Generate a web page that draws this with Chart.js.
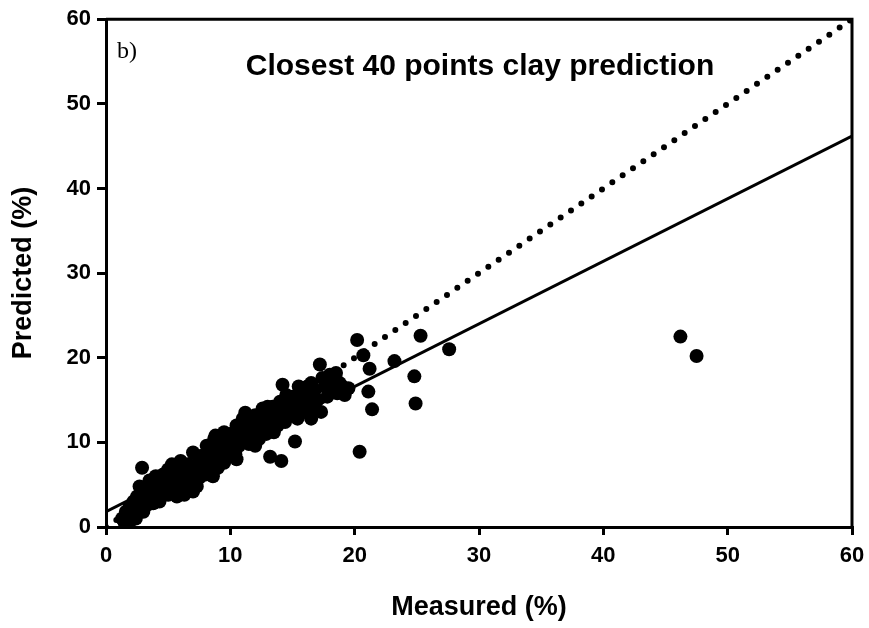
<!DOCTYPE html>
<html>
<head>
<meta charset="utf-8">
<script src="https://cdn.jsdelivr.net/npm/chart.js@4"></script>
<style>
  body { margin: 0; background: #fff; }
  canvas { display: block; }
</style>
</head>
<body>
<canvas id="clayChart" width="869" height="628"></canvas>
<script>
// measured vs predicted clay (%)
const measured = [
  1.3, 1.5, 1.6, 1.8, 1.9, 2.0, 2.1, 2.2, 2.3, 2.4, 2.5, 2.6, 2.7, 2.8, 2.9, 3.0, 3.0, 3.2, 3.3, 3.4,
  3.5, 3.6, 3.8, 3.9, 4.0, 4.1, 4.2, 4.3, 4.5, 4.6, 4.7, 4.8, 5.0, 5.0, 5.1, 5.2, 5.3, 5.4, 5.5, 5.6,
  5.7, 5.8, 5.9, 6.0, 6.1, 6.2, 6.3, 6.4, 6.5, 6.6, 6.7, 6.8, 7.0, 7.0, 7.2, 7.3, 7.4, 7.5, 7.6, 7.8,
  7.9, 8.0, 8.1, 8.2, 8.3, 8.5, 8.6, 8.7, 8.8, 8.9, 9.0, 9.2, 9.3, 9.5, 9.6, 9.8, 10.0, 10.1, 10.3, 10.4,
  10.5, 10.7, 10.8, 11.0, 11.2, 11.3, 11.5, 11.6, 11.8, 12.0, 12.2, 12.3, 12.5, 12.6, 12.8, 12.9, 13.0, 13.2, 13.2, 13.4,
  13.5, 13.6, 13.8, 14.0, 14.1, 14.2, 14.3, 14.4, 14.6, 14.8, 15.0, 15.2, 15.2, 15.4, 15.6, 15.8, 16.0, 16.2, 16.4, 16.6,
  16.8, 17.0, 17.2, 17.3, 17.4, 17.6, 17.8, 18.0, 18.2, 18.4, 18.6, 18.8, 19.2, 20.2, 20.7, 21.2, 21.1, 21.4, 20.4, 23.2,
  25.3, 24.8, 24.9, 27.6, 46.2, 47.5,
  3.5, 4.0, 6.0, 7.0, 8.8, 9.5, 10.5, 12.0, 13.0, 15.5, 16.5, 18.5, 19.0, 19.5,
  7.0, 9.0, 10.5, 12.0, 16.5, 11.0, 14.5, 5.5, 3.0
];
const predicted = [
  1.0, 0.5, 1.8, 1.2, 2.4, 0.8, 1.6, 3.0, 2.2, 1.0, 3.6, 2.0, 4.8, 2.8, 7.0, 3.5, 1.8, 4.2, 2.6, 5.0,
  3.2, 4.0, 2.8, 4.8, 3.6, 5.6, 4.3, 3.0, 5.0, 6.2, 4.0, 5.4, 3.8, 6.8, 4.8, 5.8, 7.4, 4.2, 6.4, 5.2,
  3.6, 6.9, 5.6, 4.6, 7.2, 6.0, 3.8, 5.2, 6.6, 7.4, 4.6, 6.2, 5.6, 7.0, 6.4, 4.8, 7.6, 5.8, 8.4, 6.8,
  7.6, 6.2, 9.6, 8.0, 7.0, 9.0, 6.0, 10.4, 8.2, 7.4, 9.4, 8.6, 10.8, 7.6, 9.8, 8.4, 10.4, 9.2, 11.2, 8.6,
  10.0, 9.6, 11.8, 10.6, 13.5, 11.4, 9.8, 12.2, 10.8, 11.6, 12.6, 10.4, 11.8, 14.0, 12.8, 11.0, 13.4, 8.3, 12.2, 14.2,
  11.2, 13.0, 12.0, 14.8, 7.8, 16.8, 13.6, 12.4, 14.2, 13.2, 15.4, 10.1, 14.0, 12.8, 15.8, 14.6, 13.6, 16.6, 15.2, 14.0,
  16.2, 15.0, 19.2, 13.6, 17.6, 16.6, 15.4, 18.0, 16.6, 17.2, 15.8, 17.0, 15.6, 22.1, 20.3, 18.7, 16.0, 13.9, 8.9, 19.6,
  22.6, 17.8, 14.6, 21.0, 22.5, 20.2,
  5.5, 6.0, 7.8, 8.8, 10.8, 11.2, 12.0, 13.2, 14.2, 16.6, 17.0, 18.2, 16.6, 16.4,
  4.2, 7.0, 8.0, 9.6, 12.8, 12.8, 15.6, 4.8, 2.2
];

// fitted regression line and 1:1 line end points
const fitX = [0, 60];
const fitY = [1.8, 46.2];
const oneToOneX = [0, 60];
const oneToOneY = [0, 60];

const xTicks = [0, 10, 20, 30, 40, 50, 60];
const yTicks = [0, 10, 20, 30, 40, 50, 60];

const ctx = document.getElementById('clayChart').getContext('2d');

const toPoints = (xs, ys) => xs.map((x, i) => ({ x: x, y: ys[i] }));

// frame on top and right, plus the text inside the plot
const framePlugin = {
  id: 'frame',
  afterDraw(chart) {
    const a = chart.chartArea;
    const c = chart.ctx;
    c.save();
    c.strokeStyle = '#000';
    c.lineWidth = 3;
    c.beginPath();
    c.moveTo(a.left, a.top);
    c.lineTo(a.right, a.top);
    c.lineTo(a.right, a.bottom);
    c.stroke();

    c.fillStyle = '#000';
    c.textBaseline = 'middle';
    c.font = '24px "Liberation Serif", serif';
    c.textAlign = 'left';
    c.fillText('b)', 117, 52);

    c.font = 'bold 30px "Liberation Sans", Arial, sans-serif';
    c.textAlign = 'center';
    c.fillText('Closest 40 points clay prediction', 480, 67);
    c.restore();
  }
};

const tickFont = { family: '"Liberation Sans", Arial, sans-serif', size: 22, weight: 'bold' };
const titleFont = { family: '"Liberation Sans", Arial, sans-serif', size: 27, weight: 'bold' };

new Chart(ctx, {
  type: 'scatter',
  data: {
    datasets: [
      {
        label: 'Samples',
        data: toPoints(measured, predicted),
        pointRadius: 7,
        pointHoverRadius: 7,
        pointBackgroundColor: '#000',
        pointBorderWidth: 0,
        order: 0
      },
      {
        label: 'Regression',
        data: toPoints(fitX, fitY),
        showLine: true,
        borderColor: '#000',
        borderWidth: 3,
        pointRadius: 0,
        order: 1
      },
      {
        label: '1:1',
        data: toPoints(oneToOneX, oneToOneY),
        showLine: true,
        borderColor: '#000',
        borderWidth: 6,
        borderDash: [0, 12.5],
        borderCapStyle: 'round',
        pointRadius: 0,
        order: 2
      }
    ]
  },
  options: {
    responsive: false,
    animation: false,
    layout: { padding: { left: 0, right: 17, top: 19, bottom: 0 } },
    plugins: {
      legend: { display: false },
      tooltip: { enabled: false }
    },
    scales: {
      x: {
        type: 'linear',
        min: 0,
        max: 60,
        afterBuildTicks: axis => { axis.ticks = xTicks.map(v => ({ value: v })); },
        afterFit: axis => {
          axis.height = 101;
          axis.paddingRight = 0;
          axis.paddingLeft = 0;
        },
        border: { display: true, color: '#000', width: 3 },
        grid: { drawOnChartArea: false, drawTicks: true, tickLength: 8, color: '#000', lineWidth: 3 },
        ticks: { color: '#000', font: tickFont, padding: 8, maxRotation: 0 },
        title: {
          display: true,
          text: 'Measured (%)',
          color: '#000',
          font: titleFont,
          padding: { top: 0, bottom: 4 }
        }
      },
      y: {
        type: 'linear',
        min: 0,
        max: 60,
        afterBuildTicks: axis => { axis.ticks = yTicks.map(v => ({ value: v })); },
        afterFit: axis => { axis.width = 106; },
        border: { display: true, color: '#000', width: 3 },
        grid: { drawOnChartArea: false, drawTicks: true, tickLength: 9, color: '#000', lineWidth: 3 },
        ticks: { color: '#000', font: tickFont, padding: 6 },
        title: {
          display: true,
          text: 'Predicted (%)',
          color: '#000',
          font: titleFont,
          padding: { top: 7, bottom: 0 }
        }
      }
    }
  },
  plugins: [framePlugin]
});
</script>
</body>
</html>
